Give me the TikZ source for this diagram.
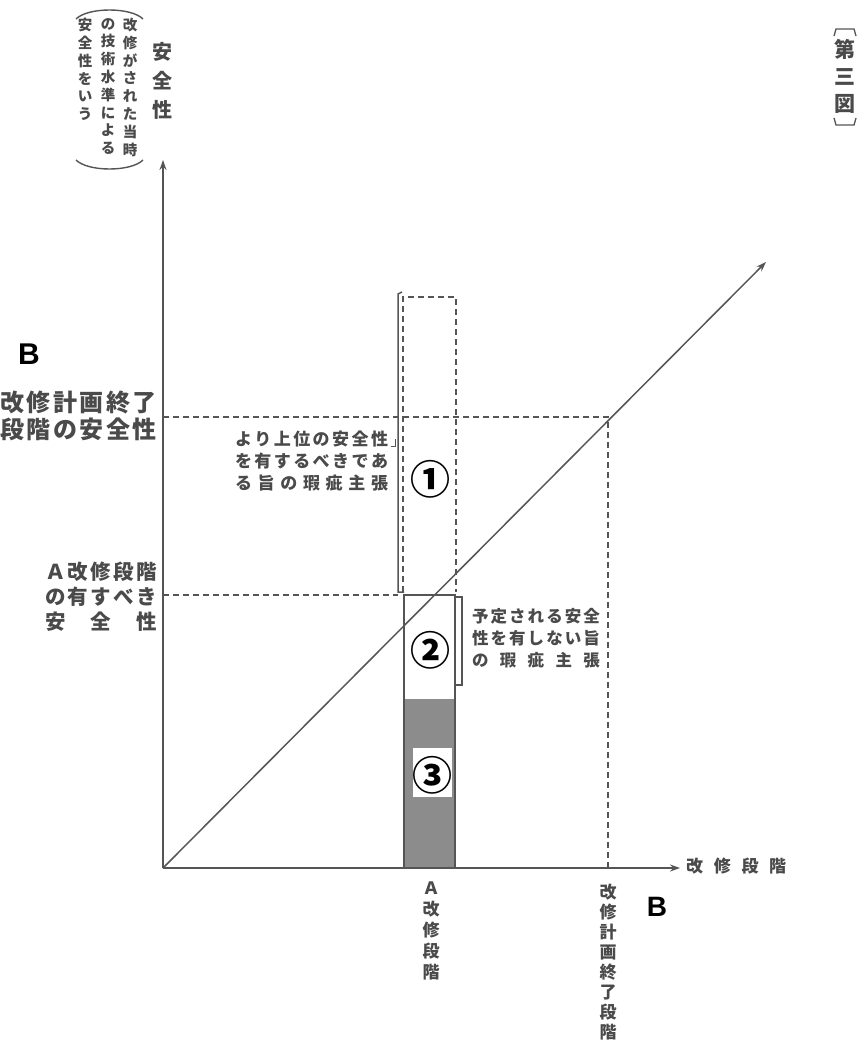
\documentclass[tikz,border=0pt]{standalone}
\usepackage{fontspec}
\newfontfamily\jp{Noto Sans CJK JP}
\newfontfamily\lat{Liberation Sans}
\usetikzlibrary{arrows.meta}
\definecolor{txtgray}{HTML}{4A4A4A}
\definecolor{lngray}{HTML}{555555}
\definecolor{barfill}{HTML}{8C8C8C}
\makeatletter
\newcommand\sprd[2]{\makebox[#1][s]{\def\sprd@sep{}\@tfor\sprd@c:=#2\do{\sprd@sep\sprd@c\def\sprd@sep{\hfill}}}}
\makeatother
\tikzset{
  axisline/.style={draw=lngray, line width=1.5pt, -{Stealth[length=10pt,width=7pt]}},
  dashline/.style={draw=lngray, line width=1.8pt, dash pattern=on 6pt off 4pt},
  solidline/.style={draw=lngray, line width=1.5pt},
  jt/.style={text=txtgray, inner sep=0pt},
  circnum/.style={font=\jp\bfseries\fontsize{40}{40}\selectfont, text=black, inner sep=0pt},
  bigB/.style={font=\lat\bfseries\fontsize{30}{30}\selectfont, text=black, inner sep=0pt},
}
\begin{document}
\begin{tikzpicture}[x=1pt,y=-1pt]
\fill[white] (0,0) rectangle (861,1046);
\useasboundingbox (0,0) rectangle (861,1046);

% axes
\coordinate (O) at (163,868);
\coordinate (Ytip) at (163,160);
\coordinate (Xtip) at (680,868);
\coordinate (Dtip) at (766,262);

% shaded part of bar
\fill[barfill] (404,699) rectangle (455,868);
\fill[white] (413,748) rectangle (452,797);

% dashed guides
\coordinate (Bl) at (163,417);
\coordinate (Bc) at (608,417);
\coordinate (Bb) at (608,868);
\coordinate (Al) at (163,595);
\coordinate (Ar) at (398,595);
\draw[dashline] (Bl) -- (Bc) -- (Bb);
\draw[dashline] (Al) -- (Ar);

% dashed box 1
\draw[dashline] (403,592) -- (403,297) -- (456,297) -- (456,592);
% left bracket of 1
\draw[solidline] (402,292) -- (398,294) -- (398,592) -- (404,592);
\draw[solidline, line width=1pt] (395,439) -- (395,446) -- (391,446);

% solid bar 2/3
\draw[solidline] (404,868) -- (404,595) -- (455,595) -- (455,868);
% right bracket of 2
\draw[solidline] (455,597) -- (462,597) -- (462,685) -- (455,685);

\draw[axisline] (O) -- (Ytip);
\draw[axisline] (O) -- (Xtip);
\draw[axisline] (O) -- (Dtip);

% circled numbers
\node[circnum] (n1) at (430,479) {①};
\node[circnum] (n2) at (430,650) {②};
\node[circnum] (n3) at (432,775) {③};

% top-left vertical texts
\node[jt, font=\jp\bfseries\fontsize{20}{29}\selectfont, align=center] (ylab) at (162,81) {安\\全\\性};
\node[jt, font=\jp\bfseries\fontsize{14.5}{17.8}\selectfont, align=center, anchor=north] (pc1) at (130,18) {改\\修\\が\\さ\\れ\\た\\当\\時};
\node[jt, font=\jp\bfseries\fontsize{14.5}{17.8}\selectfont, align=center, anchor=north] (pc2) at (108,18) {の\\技\\術\\水\\準\\に\\よ\\る};
\node[jt, font=\jp\bfseries\fontsize{14.5}{17.8}\selectfont, align=center, anchor=north] (pc3) at (85,18) {安\\全\\性\\を\\い\\う};
\draw[solidline, line width=1.4pt] (76,19) .. controls (88,7) and (131,7) .. (143,19);
\draw[solidline, line width=1.4pt] (76,160) .. controls (88,172) and (131,172) .. (143,160);

% figure title
\node[jt, font=\jp\bfseries\fontsize{21}{27}\selectfont, align=center] (title) at (845,76) {第\\三\\図};
\draw[solidline, line width=1.3pt] (834,36) -- (836,29) -- (854,29) -- (856,36);
\draw[solidline, line width=1.3pt] (834,118) -- (836,125) -- (854,125) -- (856,118);

% B labels
\node[bigB] (B1) at (29,354) {B};
\node[bigB, font=\lat\bfseries\fontsize{28}{28}\selectfont] (B2) at (657,907) {B};

% left labels
\node[jt, font=\jp\bfseries\fontsize{24}{27}\selectfont, align=left] (lbB) at (78.5,415.5)
  {\sprd{157pt}{改修計画終了}\\\sprd{157pt}{段階の安全性}};
\node[jt, font=\jp\bfseries\fontsize{20.5}{25}\selectfont, align=left] (lbA) at (101,597)
  {\sprd{112pt}{Ａ改修段階}\\\sprd{112pt}{の有すべき}\\\sprd{112pt}{安全性}};

% claim texts
\node[jt, font=\jp\bfseries\fontsize{17}{22}\selectfont, align=left] (t1) at (311.5,461)
  {\sprd{153pt}{より上位の安全性}\\\sprd{153pt}{を有するべきであ}\\\sprd{153pt}{る旨の瑕疵主張}};
\node[jt, font=\jp\bfseries\fontsize{16.5}{22}\selectfont, align=left] (t2) at (536,638)
  {\sprd{128pt}{予定される安全}\\\sprd{128pt}{性を有しない旨}\\\sprd{128pt}{の瑕疵主張}};

% axis labels
\node[jt, font=\jp\bfseries\fontsize{17}{17}\selectfont, anchor=west] (xlab) at (686,866) {\sprd{100pt}{改修段階}};
\node[jt, font=\jp\bfseries\fontsize{17}{21}\selectfont, align=center] (xa) at (431,931) {Ａ\\改\\修\\段\\階};
\node[jt, font=\jp\bfseries\fontsize{17}{20}\selectfont, align=center] (xb) at (608,962) {改\\修\\計\\画\\終\\了\\段\\階};
\end{tikzpicture}
\end{document}
